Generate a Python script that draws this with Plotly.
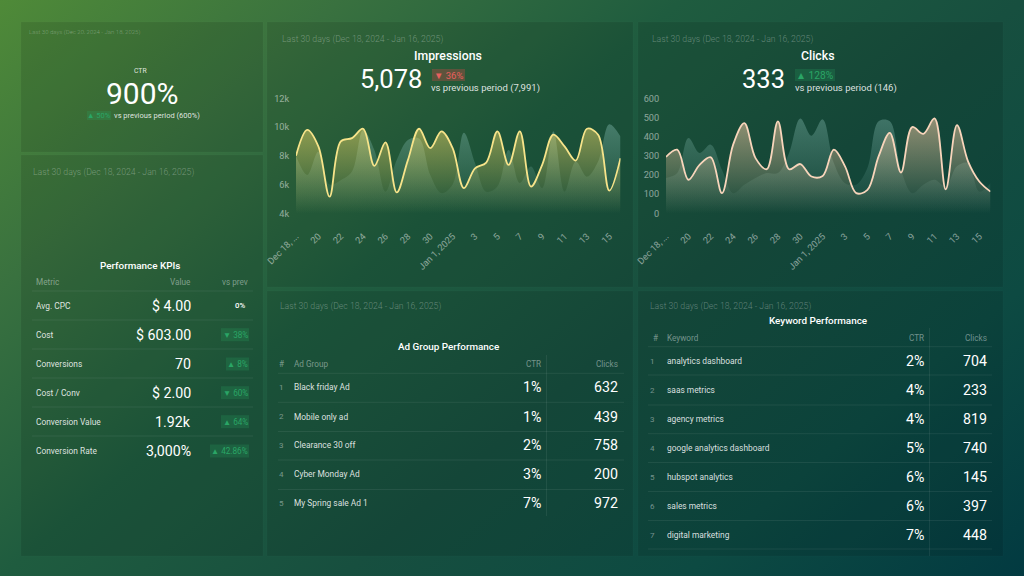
import urllib.parse
import plotly.graph_objects as go

W, H = 1024, 576

# ---------- data ----------
days = ["Dec 18", "Dec 19", "Dec 20", "Dec 21", "Dec 22", "Dec 23", "Dec 24", "Dec 25", "Dec 26", "Dec 27",
        "Dec 28", "Dec 29", "Dec 30", "Dec 31", "Jan 1", "Jan 2", "Jan 3", "Jan 4", "Jan 5", "Jan 6",
        "Jan 7", "Jan 8", "Jan 9", "Jan 10", "Jan 11", "Jan 12", "Jan 13", "Jan 14", "Jan 15", "Jan 16"]
tick_days = days[0::2]
tick_labels = ["Dec 18, ...", "20", "22", "24", "26", "28", "30", "Jan 1, 2025", "3", "5", "7", "9", "11", "13", "15"]

impressions_now = [8000, 9800, 8650, 5160, 9000, 9230, 9880, 7300, 8930, 5450,
                   7700, 9880, 8530, 9700, 8530, 5750, 7130, 7530, 9700, 7370,
                   9700, 5860, 7370, 9470, 8650, 7670, 9880, 9470, 5580, 7840]
impressions_prev = [8000, 6670, 8300, 6000, 6300, 6900, 9800, 8400, 5500, 7700,
                    9100, 9200, 6670, 5400, 6000, 9600, 7500, 5500, 5860, 8400,
                    6100, 7250, 5750, 9700, 5500, 7600, 6550, 7600, 10200, 9350]
clicks_now = [294, 332, 175, 253, 292, 105, 358, 470, 288, 230,
              480, 230, 257, 192, 195, 332, 245, 105, 122, 297,
              420, 213, 450, 415, 495, 125, 460, 270, 166, 113]
clicks_prev = [184, 210, 393, 315, 358, 227, 105, 149, 184, 210,
               210, 315, 495, 405, 490, 262, 157, 149, 236, 480,
               480, 227, 105, 149, 175, 140, 245, 262, 113, 157]

kpi_names = ["Avg. CPC", "Cost", "Conversions", "Cost / Conv", "Conversion Value", "Conversion Rate"]
kpi_values = ["$ 4.00", "$ 603.00", "70", "$ 2.00", "1.92k", "3,000%"]
kpi_deltas = ["0%", "▼ 38%", "▲ 8%", "▼ 60%", "▲ 64%", "▲ 42.86%"]
kpi_pill_widths = [0, 28, 23, 28, 28, 39]

ad_groups = ["Black friday Ad", "Mobile only ad", "Clearance 30 off", "Cyber Monday Ad", "My Spring sale Ad 1"]
ad_ctr = ["1%", "1%", "2%", "3%", "7%"]
ad_clicks = ["632", "439", "758", "200", "972"]

keywords = ["analytics dashboard", "saas metrics", "agency metrics", "google analytics dashboard",
            "hubspot analytics", "sales metrics", "digital marketing"]
kw_ctr = ["2%", "4%", "4%", "5%", "6%", "6%", "7%"]
kw_clicks = ["704", "233", "819", "740", "145", "397", "448"]

period = "Last 30 days (Dec 18, 2024 - Jan 16, 2025)"
period_ctr = "Last 30 days (Dec 20, 2024 - Jan 18, 2025)"

# ---------- styling ----------
FONT = "Roboto"
WHITE = "#ffffff"
DIM = "rgba(255,255,255,0.42)"
SOFT = "rgba(255,255,255,0.85)"
FAINT = "rgba(255,255,255,0.32)"
SEP = "rgba(255,255,255,0.07)"
GREEN_TXT = "#2aa566"
GREEN_BG = "rgba(40,170,100,0.22)"
RED_TXT = "#e8605f"
RED_BG = "rgba(225,70,70,0.30)"
LABEL = 8.4
VALUE = 14.2
PERIOD = 8.7

anns, shapes = [], []


def fx(p):
    return p / W


def fy(p):
    return 1 - p / H


def text(x, y, s, size=10, color=SOFT, anchor="left", weight=400):
    if anchor == "left":
        x -= 1
    anns.append(dict(x=fx(x), y=fy(y), xref="paper", yref="paper", text=s, showarrow=False,
                     xanchor=anchor, yanchor="middle", borderpad=0,
                     font=dict(family=FONT, size=size, color=color, weight=weight)))


def rect(x0, y0, x1, y1, fill, line=None):
    shapes.append(dict(type="rect", xref="paper", yref="paper", x0=fx(x0), x1=fx(x1), y0=fy(y0), y1=fy(y1),
                       fillcolor=fill, line=dict(width=1 if line else 0, color=line or "rgba(0,0,0,0)"),
                       layer="below"))


def hline(x0, x1, y, color=SEP):
    shapes.append(dict(type="line", xref="paper", yref="paper", x0=fx(x0), x1=fx(x1), y0=fy(y), y1=fy(y),
                       line=dict(width=1, color=color), layer="below"))


def vline(x, y0, y1, color=SEP):
    shapes.append(dict(type="line", xref="paper", yref="paper", x0=fx(x), x1=fx(x), y0=fy(y0), y1=fy(y1),
                       line=dict(width=1, color=color), layer="below"))


# panels
for x0, y0, x1, y1 in [(21, 22, 263, 152), (21, 155, 263, 556), (267, 22, 633, 287),
                       (638, 22, 1003, 287), (267, 291, 633, 556), (638, 291, 1003, 556)]:
    rect(x0, y0, x1, y1, "rgba(0,0,0,0.10)", "rgba(255,255,255,0.02)")

# CTR panel
text(29, 31.5, period_ctr, 6, FAINT, weight=300)
text(140, 71, "CTR", 6.8, SOFT, "center")
text(142, 93, "900%", 30, WHITE, "center")
rect(87, 111, 111, 120, GREEN_BG)
text(99, 115.5, "▲ 50%", 7.5, GREEN_TXT, "center")
text(114, 115.5, "vs previous period (600%)", 7.5, SOFT)

# KPI panel
text(33, 172, period, PERIOD, FAINT, weight=300)
text(140, 265, "Performance KPIs", 9.9, WHITE, "center", 500)
text(36, 282, "Metric", 8.2, DIM)
text(192, 281.5, "Value", 8.2, DIM, "right")
text(249, 281.5, "vs prev", 8.2, DIM, "right")
kpi_row_y = [305.7, 334.7, 364, 392.7, 421.7, 451]
kpi_sep_y = [291, 320, 349, 378, 407, 436]
for i, name in enumerate(kpi_names):
    y = kpi_row_y[i]
    hline(32, 253, kpi_sep_y[i])
    text(36, y, name, LABEL, SOFT)
    text(192, y, kpi_values[i], VALUE, WHITE, "right")
    if kpi_pill_widths[i]:
        rect(249 - kpi_pill_widths[i], y - 6.5, 249, y + 6.5, GREEN_BG)
        text(249 - kpi_pill_widths[i] / 2, y, kpi_deltas[i], 8.2, GREEN_TXT, "center")
    else:
        text(246, y, kpi_deltas[i], 7.8, WHITE, "right", 500)

# Impressions header
text(282, 40, period, PERIOD, FAINT, weight=300)
text(448, 56, "Impressions", 12.3, WHITE, "center", 500)
text(390.5, 79, "5,078", 25.5, WHITE, "center")
rect(432, 69, 465, 81, RED_BG)
text(448.5, 75, "▼ 36%", 9.5, RED_TXT, "center")
text(431, 88, "vs previous period (7,991)", 9.5, SOFT)

# Clicks header
text(652, 40, period, PERIOD, FAINT, weight=300)
text(817, 56, "Clicks", 12.3, WHITE, "center", 500)
text(763, 79, "333", 25.5, WHITE, "center")
rect(795, 69, 835, 81, GREEN_BG)
text(815, 75, "▲ 128%", 10.2, GREEN_TXT, "center")
text(795, 88, "vs previous period (146)", 9.5, SOFT)

# Ad group table
text(280, 306.5, period, PERIOD, FAINT, weight=300)
text(448, 346, "Ad Group Performance", 9.9, WHITE, "center", 500)
text(279, 364, "#", 8.2, DIM)
text(293.5, 364, "Ad Group", 8.2, DIM)
text(542, 364, "CTR", 8.2, DIM, "right")
text(618.5, 364, "Clicks", 8.2, DIM, "right")
vline(546.5, 355, 516)
ad_row_y = [387.3, 416.7, 445.3, 474.3, 503.3]
ad_sep_y = [373.3, 402.3, 431.5, 460, 489.5]
for i, name in enumerate(ad_groups):
    y = ad_row_y[i]
    hline(278, 624, ad_sep_y[i])
    text(279, y, str(i + 1), 8, DIM)
    text(293.5, y, name, LABEL, SOFT)
    text(542, y, ad_ctr[i], VALUE, WHITE, "right")
    text(618.5, y, ad_clicks[i], VALUE, WHITE, "right")

# Keyword table
text(650, 306, period, PERIOD, FAINT, weight=300)
text(818, 320, "Keyword Performance", 9.9, WHITE, "center", 500)
text(655, 337.5, "#", 8.2, DIM, "center")
text(667, 337.5, "Keyword", 8.2, DIM)
text(925, 337.5, "CTR", 8.2, DIM, "right")
text(988, 337.5, "Clicks", 8.2, DIM, "right")
vline(929.5, 328, 556)
kw_row_y = [361, 390, 419, 448, 477, 506, 535]
kw_sep_y = [346.7, 375, 405, 433.7, 462.5, 491.5, 520.5]
for i, name in enumerate(keywords):
    y = kw_row_y[i]
    hline(648, 992, kw_sep_y[i])
    text(650, y, str(i + 1), 8, DIM)
    text(667, y, name, LABEL, SOFT)
    text(925, y, kw_ctr[i], VALUE, WHITE, "right")
    text(988, y, kw_clicks[i], VALUE, WHITE, "right")
hline(648, 992, 549)

# ---------- charts ----------
fig = go.Figure()


def area(xa, ya, values, line_color, top_color, bottom_color, lo, hi, width):
    fig.add_trace(go.Scatter(
        x=days, y=values, xaxis=xa, yaxis=ya, mode="lines",
        line=dict(shape="spline", smoothing=1, color=line_color, width=width),
        fill="tozeroy",
        fillgradient=dict(type="vertical", start=hi, stop=lo,
                          colorscale=[[0, top_color], [1, bottom_color]]),
        hoverinfo="skip", showlegend=False,
    ))


area("x", "y", impressions_prev, "rgba(0,0,0,0)", "rgba(135,190,180,0.42)", "rgba(135,190,180,0.0)", 4000, 10500, 0)
area("x", "y", impressions_now, "#f7e48a", "rgba(245,220,105,0.50)", "rgba(245,220,105,0.0)", 4000, 10000, 1.8)
area("x2", "y2", clicks_prev, "rgba(0,0,0,0)", "rgba(135,190,180,0.38)", "rgba(135,190,180,0.0)", 0, 500, 0)
area("x2", "y2", clicks_now, "#f8d5bb", "rgba(250,205,165,0.55)", "rgba(250,205,165,0.0)", 0, 500, 1.8)

axis_font = dict(family=FONT, size=9.2, color="rgba(255,255,255,0.5)")


def xaxis(dom, anchor):
    return dict(domain=[fx(dom[0]), fx(dom[1])], type="category", categoryorder="array", categoryarray=days,
                range=[0, 29], tickmode="array", tickvals=tick_days, ticktext=tick_labels, anchor=anchor,
                tickangle=-45, tickfont=axis_font, showgrid=False, zeroline=False, showline=False,
                ticks="outside", ticklen=13, tickcolor="rgba(0,0,0,0)", fixedrange=True, automargin=False)


def yaxis(rng, vals, labels, anchor):
    return dict(domain=[fy(213.3), fy(98.3)], range=rng, tickmode="array", tickvals=vals, ticktext=labels,
                tickfont=axis_font, showgrid=False, zeroline=False, showline=False, anchor=anchor,
                ticks="outside", ticklen=4, tickcolor="rgba(0,0,0,0)", fixedrange=True, automargin=False)


svg = ('<svg xmlns="http://www.w3.org/2000/svg" width="1024" height="576">'
       '<defs><linearGradient id="g" gradientUnits="userSpaceOnUse" x1="0" y1="0" x2="711" y2="840">'
       '<stop offset="0" stop-color="#4f8a38"/><stop offset="0.2" stop-color="#39713f"/>'
       '<stop offset="0.4" stop-color="#1f5c3f"/><stop offset="0.6" stop-color="#174f3f"/>'
       '<stop offset="0.8" stop-color="#0d4a42"/><stop offset="1" stop-color="#023a41"/>'
       '</linearGradient></defs>'
       '<rect width="1024" height="576" fill="url(#g)"/></svg>')
bg = "data:image/svg+xml," + urllib.parse.quote(svg)

fig.update_layout(
    width=W, height=H, autosize=False, margin=dict(l=0, r=0, t=0, b=0, pad=0),
    paper_bgcolor="#143f3a", plot_bgcolor="rgba(0,0,0,0)",
    font=dict(family=FONT),
    images=[dict(source=bg, xref="paper", yref="paper", x=0, y=1, sizex=1, sizey=1,
                 xanchor="left", yanchor="top", sizing="stretch", layer="below")],
    shapes=shapes, annotations=anns,
    xaxis=xaxis((296, 620.5), "y"),
    yaxis=yaxis([4000, 12000], [4000, 6000, 8000, 10000, 12000], ["4k", "6k", "8k", "10k", "12k"], "x"),
    xaxis2=xaxis((666, 990.5), "y2"),
    yaxis2=yaxis([0, 600], [0, 100, 200, 300, 400, 500, 600],
                 ["0", "100", "200", "300", "400", "500", "600"], "x2"),
)

fig.write_html("out.html", config=dict(displayModeBar=False, staticPlot=True),
               post_script="document.body.style.margin='0';document.body.style.background='#143f3a';")
